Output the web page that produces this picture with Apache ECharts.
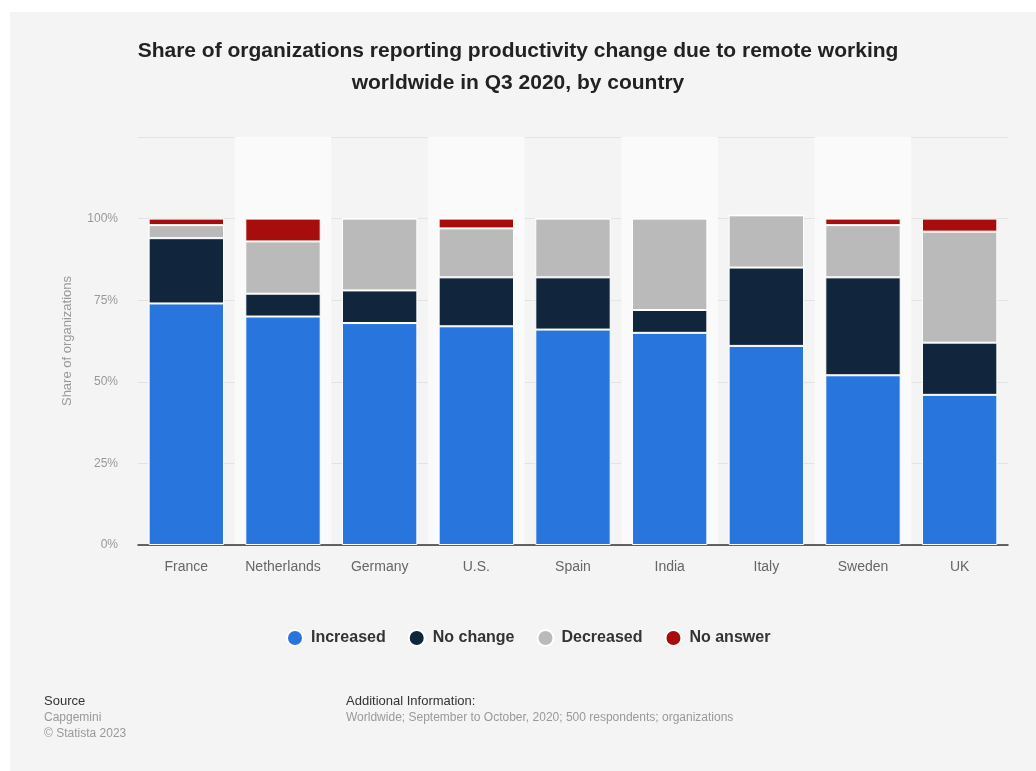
<!DOCTYPE html>
<html>
<head>
<meta charset="utf-8">
<script src="https://cdn.jsdelivr.net/npm/echarts@6/dist/echarts.min.js"></script>
<style>
  html, body { margin: 0; padding: 0; background: #ffffff; }
  #chart { width: 1036px; height: 771px; }
</style>
</head>
<body>
<div id="chart"></div>
<script>
// Countries along the x axis
const countries = ['France', 'Netherlands', 'Germany', 'U.S.', 'Spain', 'India', 'Italy', 'Sweden', 'UK'];

// Share of organizations (%) per answer
const increased = [74, 70, 68, 67, 66, 65, 61, 52, 46];
const noChange  = [20, 7, 10, 15, 16, 7, 24, 30, 16];
const decreased = [4, 16, 22, 15, 18, 28, 16, 16, 34];
const noAnswer  = [2, 7, 0, 3, 0, 0, 0, 2, 4];

const seriesNames = ['Increased', 'No change', 'Decreased', 'No answer'];
const seriesColors = ['#2876dd', '#11263c', '#bababa', '#a80d0d'];

// y axis ticks
const yTicks = [0, 25, 50, 75, 100, 125];

const FONT = '"Liberation Sans", Arial, sans-serif';

const chart = echarts.init(document.getElementById('chart'), null, { renderer: 'canvas' });

const values = [increased, noChange, decreased, noAnswer];

const option = {
  backgroundColor: '#ffffff',
  animation: false,
  textStyle: { fontFamily: FONT },
  graphic: [
    {
      type: 'rect', z: -10, silent: true,
      shape: { x: 10, y: 12, width: 1036, height: 771 },
      style: { fill: '#f4f4f4' }
    },
    {
      type: 'text', left: 'center', top: 35,
      style: {
        text: 'Share of organizations reporting productivity change due to remote working\nworldwide in Q3 2020, by country',
        font: 'bold 21px ' + FONT, fill: '#222222', textAlign: 'center', lineHeight: 32
      }
    },
    { type: 'text', left: 44, top: 695, style: { text: 'Source', font: '13px ' + FONT, fill: '#333333' } },
    { type: 'text', left: 44, top: 712, style: { text: 'Capgemini', font: '12px ' + FONT, fill: '#999999' } },
    { type: 'text', left: 44, top: 728, style: { text: '\u00a9 Statista 2023', font: '12px ' + FONT, fill: '#999999' } },
    { type: 'text', left: 346, top: 695, style: { text: 'Additional Information:', font: '13px ' + FONT, fill: '#333333' } },
    { type: 'text', left: 346, top: 712, style: { text: 'Worldwide; September to October, 2020; 500 respondents; organizations', font: '12px ' + FONT, fill: '#999999' } }
  ],
  legend: {
    data: seriesNames,
    top: 624,
    left: 281,
    icon: 'circle',
    itemWidth: 16,
    itemHeight: 16,
    itemGap: 22,
    textStyle: { fontSize: 16, fontWeight: 'bold', color: '#333333', fontFamily: FONT, padding: [0, 0, 0, 3] }
  },
  grid: { left: 138, right: 28, top: 137, bottom: 226, containLabel: false },
  xAxis: {
    type: 'category',
    data: countries,
    axisLine: { show: true, lineStyle: { color: '#333333', width: 1.5 } },
    axisTick: { show: false },
    axisLabel: { interval: 0, color: '#666666', fontSize: 14, margin: 15, fontFamily: FONT },
    splitArea: { show: true, interval: 0, areaStyle: { color: ['rgba(0,0,0,0)', '#fafafa'] } }
  },
  yAxis: {
    type: 'value',
    min: yTicks[0],
    max: yTicks[yTicks.length - 1],
    interval: 25,
    name: 'Share of organizations',
    nameLocation: 'middle',
    nameGap: 64,
    nameTextStyle: { color: '#999999', fontSize: 13, fontFamily: FONT },
    axisLine: { show: false },
    axisTick: { show: false },
    axisLabel: {
      color: '#999999', fontSize: 12, margin: 20, fontFamily: FONT,
      formatter: v => (v > 100 ? '' : v + '%')
    },
    splitLine: { show: true, lineStyle: { color: '#e3e3e3', width: 1 } }
  },
  series: seriesNames.map((name, i) => ({
    name: name,
    type: 'bar',
    stack: 'total',
    data: values[i],
    barCategoryGap: '22%',
    itemStyle: { color: seriesColors[i], borderColor: '#ffffff', borderWidth: 1 },
    emphasis: { disabled: true }
  }))
};

chart.setOption(option);
</script>
</body>
</html>
